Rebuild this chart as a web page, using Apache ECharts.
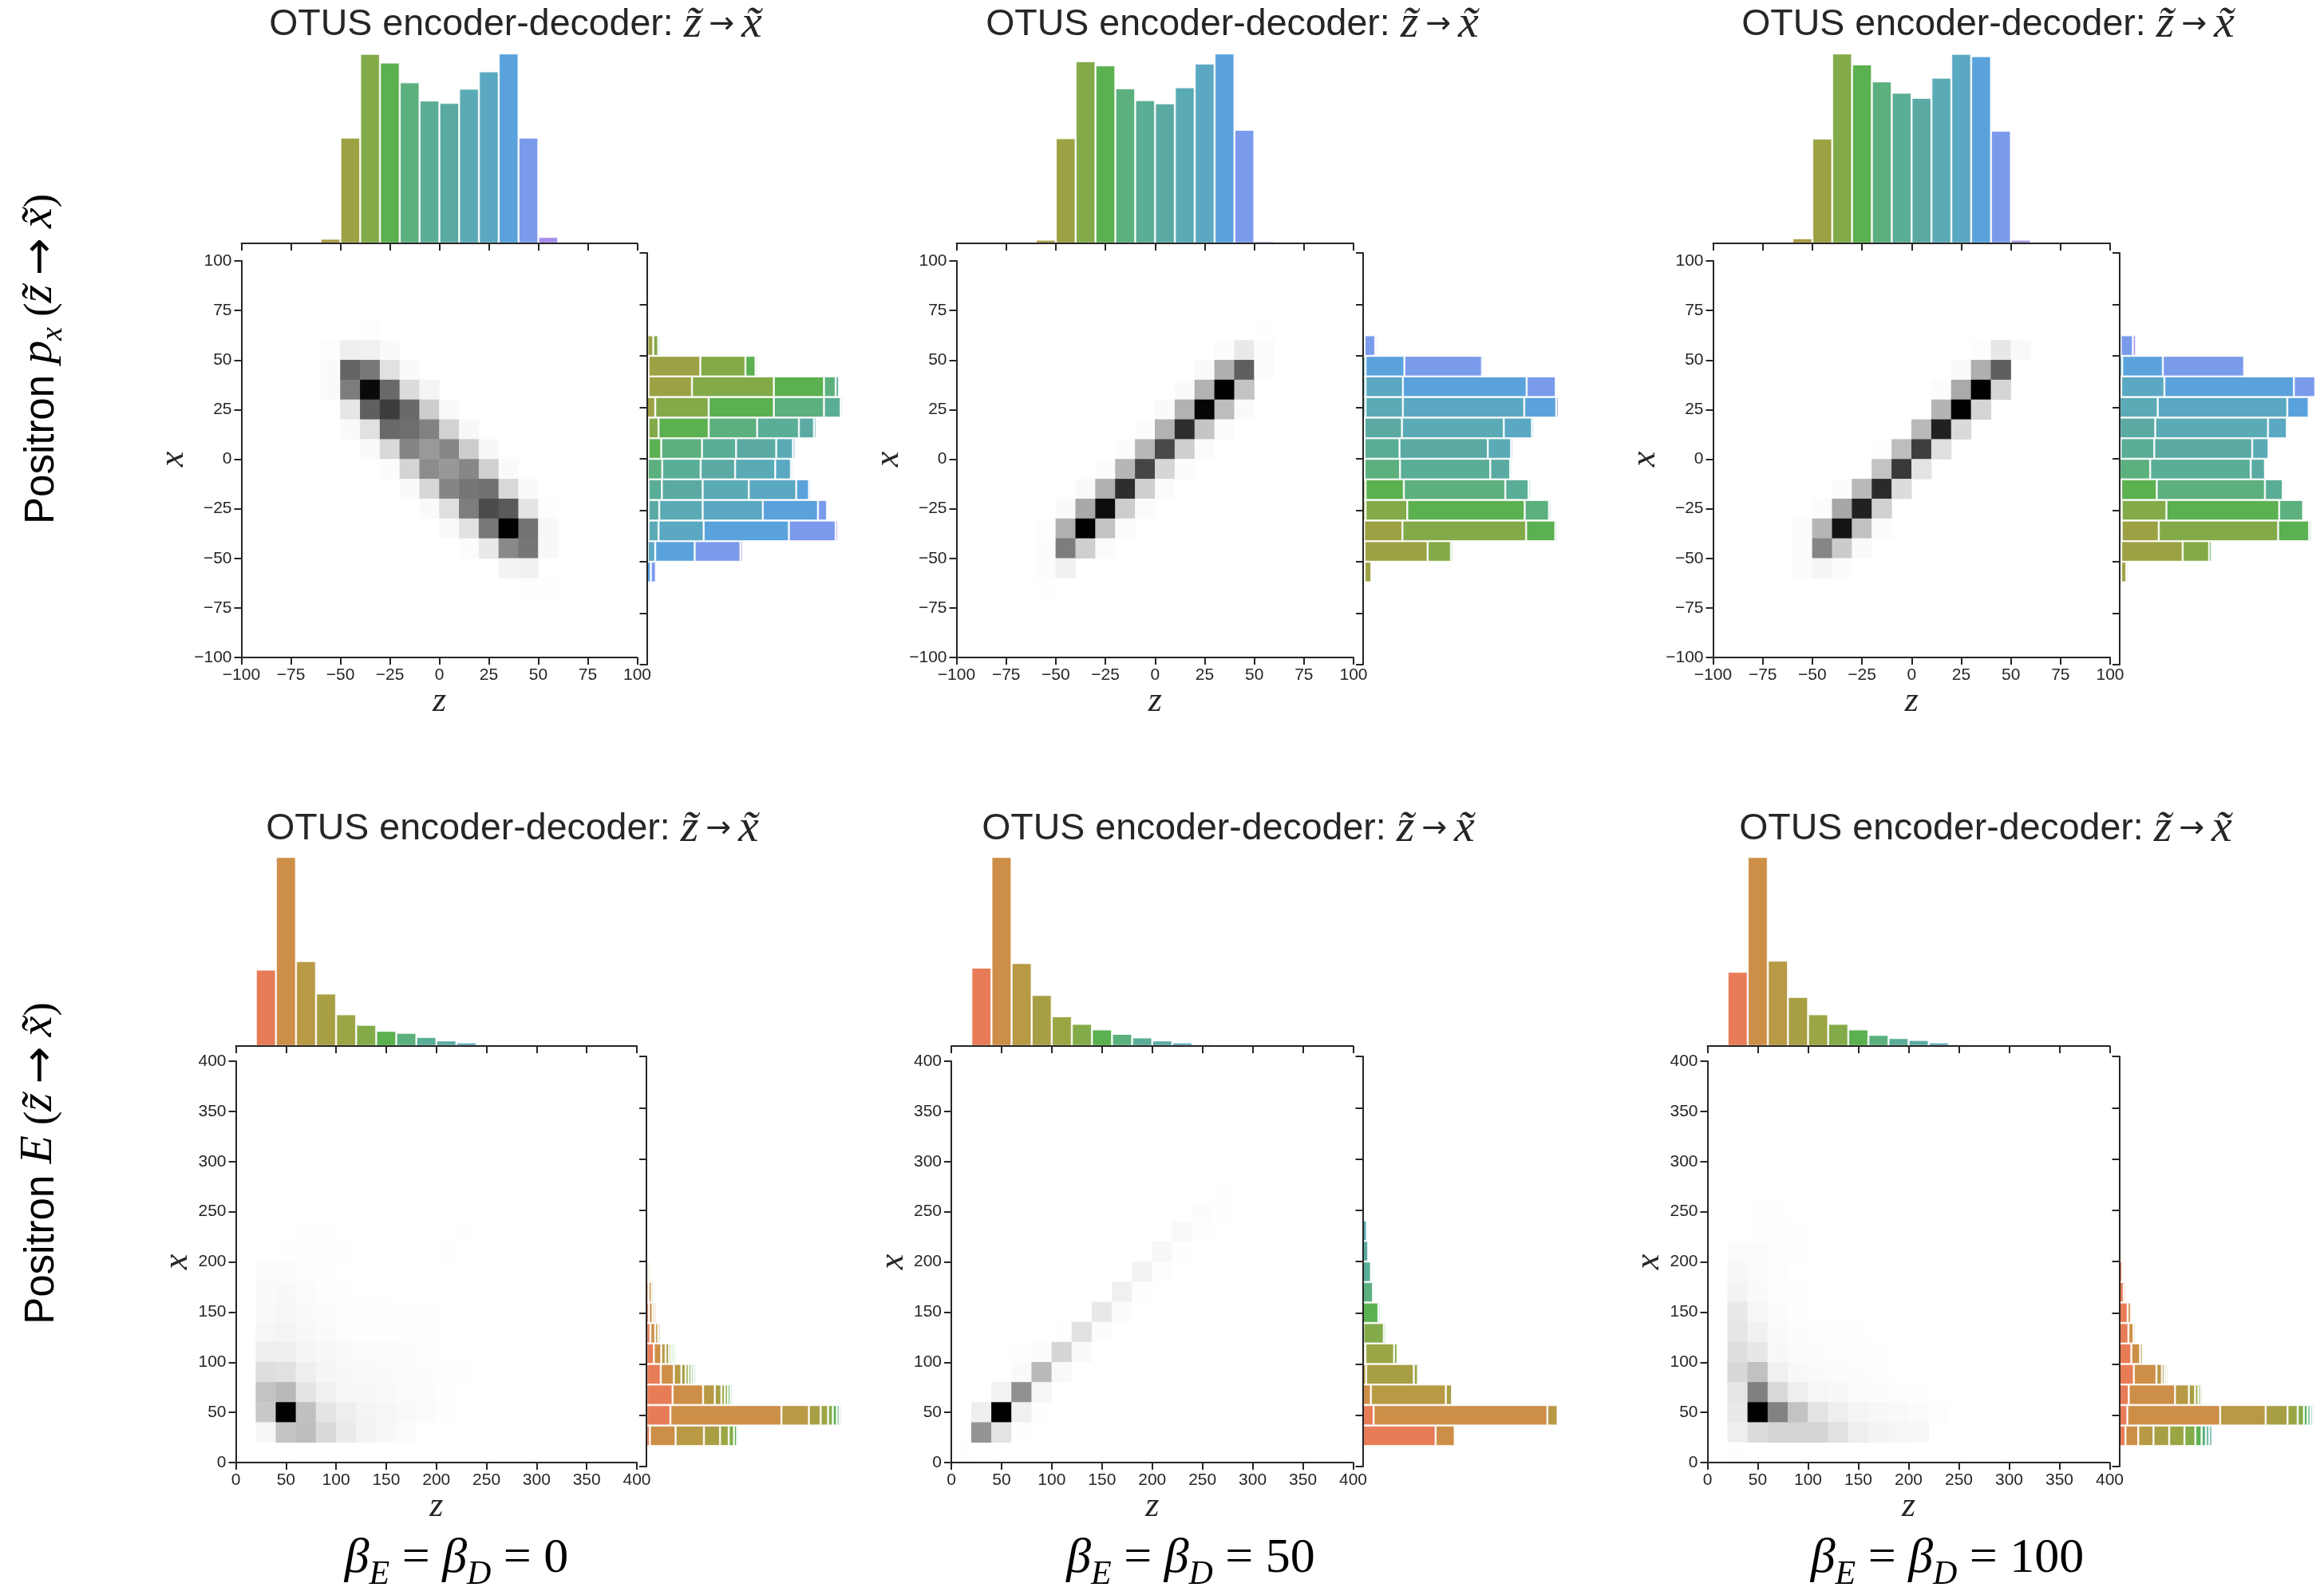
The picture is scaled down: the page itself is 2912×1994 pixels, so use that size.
<!DOCTYPE html>
<html>
<head>
<meta charset="utf-8">
<title>OTUS encoder-decoder</title>
<script src="https://cdn.jsdelivr.net/npm/echarts@6/dist/echarts.min.js"></script>
<style>
	html, body { margin: 0; padding: 0; background: #fff; }
	#main { width: 2912px; height: 1994px; }
</style>
</head>
<body>
<div id="main"></div>
<script>
// bin edges of the hidden category axes
var binsPx = [-100,-90,-80,-70,-60,-50,-40,-30,-20,-10,0,10,20,30,40,50,60,70,80,90];
var binsE = [0,20,40,60,80,100,120,140,160,180,200,220,240,260,280,300,320,340,360,380];
var ticksPx = [-100,-75,-50,-25,0,25,50,75,100];
var ticksE = [0,50,100,150,200,250,300,350,400];

// z bins and x bins that hold data
var zBinsPx = [-60,-50,-40,-30,-20,-10,0,10,20,30,40,50];
var xBinsPx = [60,50,40,30,20,10,0,-10,-20,-30,-40,-50,-60,-70];
var zBinsE = [0,20,40,60,80,100,120,140,160,180,200,220,240,260];
var xBinsE = [260,240,220,200,180,160,140,120,100,80,60,40,20,0];

// colour of every z bin
var coloursPx = ['#a89b40','#9ca243','#83aa49','#5bb04f','#5bb07e','#5aad96','#5aaaa3','#5aabb5','#5aa8c2','#5aa2dc','#7a9aec','#a58cee'];
var coloursE = ['#e87592','#e77c57','#cd8e47','#b89944','#a89e44','#9ba544','#83ab49','#5bb04f','#5bb07e','#5aad96','#59aaa3','#5aa8b5','#5aa5c6','#5aa2dc'];

// top histograms
var histPx0 = [10,231,414,395,352,312,307,338,376,415,231,14];
var histPx50 = [8,230,398,389,339,313,306,341,393,415,248,5];
var histPx100 = [11,229,415,391,354,329,318,362,414,409,246,8];
var histE0 = [1,151,374,168,104,63,42,30,26,18,11,7,4,1];
var histE50 = [1,155,374,164,101,59,44,33,24,17,11,7,4,2];
var histE100 = [1,147,374,169,97,63,44,33,22,16,12,7,4,2];

// joint counts, rows follow xBins*, columns follow zBins*
var jointPx0 = [
	[0,0,2,0,0,0,0,0,0,0,0,0],
	[2,17,15,5,0,0,0,0,0,0,0,0],
	[5,155,135,30,5,0,0,0,0,0,0,0],
	[5,130,245,150,35,10,0,0,0,0,0,0],
	[0,25,160,195,150,50,5,0,0,0,0,0],
	[0,5,30,150,145,125,45,7,0,0,0,0],
	[0,0,5,38,122,102,120,50,7,0,0,0],
	[0,0,0,3,43,115,103,120,47,5,0,0],
	[0,0,0,0,5,40,122,138,142,38,5,0],
	[0,0,0,0,0,5,32,130,180,165,27,2],
	[0,0,0,0,0,0,5,30,135,255,140,7],
	[0,0,0,0,0,0,0,3,22,118,137,7],
	[0,0,0,0,0,0,0,0,0,12,15,0],
	[0,0,0,0,0,0,0,0,0,0,2,2]
];
var jointPx50 = [
	[0,0,0,0,0,0,0,0,0,0,0,1],
	[0,0,0,0,0,0,0,0,0,3,22,3],
	[0,0,0,0,0,0,0,0,5,80,160,3],
	[0,0,0,0,0,0,0,5,77,255,60,0],
	[0,0,0,0,0,0,5,77,250,66,5,0],
	[0,0,0,0,0,3,77,210,58,4,0,0],
	[0,0,0,0,3,72,182,48,4,0,0,0],
	[0,0,0,3,73,186,41,3,0,0,0,0],
	[0,0,5,79,209,48,4,0,0,0,0,0],
	[0,5,86,242,50,4,0,0,0,0,0,0],
	[2,79,255,60,4,0,0,0,0,0,0,0],
	[3,130,48,4,0,0,0,0,0,0,0,0],
	[3,14,0,0,0,0,0,0,0,0,0,0],
	[1,0,0,0,0,0,0,0,0,0,0,0]
];
var jointPx100 = [
	[0,0,0,0,0,0,0,0,0,0,0,0],
	[0,0,0,0,0,0,0,0,0,2,24,6],
	[0,0,0,0,0,0,0,0,5,80,160,0],
	[0,0,0,0,0,0,0,3,85,255,42,0],
	[0,0,0,0,0,0,0,75,255,42,0,0],
	[0,0,0,0,0,0,70,222,37,0,0,0],
	[0,0,0,0,2,66,193,32,0,0,0,0],
	[0,0,0,0,60,198,28,0,0,0,0,0],
	[0,0,3,70,213,35,0,0,0,0,0,0],
	[0,4,88,222,47,0,0,0,0,0,0,0],
	[4,73,235,61,4,0,0,0,0,0,0,0],
	[3,121,52,5,0,0,0,0,0,0,0,0],
	[3,10,3,0,0,0,0,0,0,0,0,0],
	[0,0,0,0,0,0,0,0,0,0,0,0]
];
var jointE0 = [
	[0,0,0,0,0,0,0,0,0,0,0,0,0,0],
	[0,0,0,0,0,0,0,0,0,0,0,0,0,0],
	[0,0,0,1,1,0,0,0,0,0,0,1,0,0],
	[0,0,1,1,1,1,0,0,0,0,1,0,0,0],
	[0,4,4,2,1,0,0,0,0,0,0,0,0,0],
	[0,5,7,4,2,1,0,0,0,0,0,0,0,0],
	[0,6,8,5,4,2,2,2,1,1,0,0,0,0],
	[0,9,11,7,5,2,1,1,1,1,0,0,0,0],
	[0,17,17,10,8,5,4,4,3,1,0,0,0,0],
	[0,33,30,17,10,7,6,5,4,3,2,1,0,0],
	[0,60,70,27,15,8,7,6,4,3,1,0,0,0],
	[0,55,255,63,27,17,11,9,6,4,2,0,0,0],
	[0,8,59,65,37,20,12,7,3,0,0,0,0,0],
	[0,0,0,0,0,0,0,0,0,0,0,0,0,0]
];
var jointE50 = [
	[0,0,0,0,0,0,0,0,0,0,0,0,0,1],
	[0,0,0,0,0,0,0,0,0,0,0,0,3,1],
	[0,0,0,0,0,0,0,0,0,0,0,6,1,0],
	[0,0,0,0,0,0,0,0,0,0,8,1,0,0],
	[0,0,0,0,0,0,0,0,0,12,2,0,0,0],
	[0,0,0,0,0,0,0,0,15,2,0,0,0,0],
	[0,0,0,0,0,0,0,23,3,0,0,0,0,0],
	[0,0,0,0,0,1,30,3,0,0,0,0,0,0],
	[0,0,0,1,3,42,5,0,0,0,0,0,0,0],
	[0,0,0,5,70,6,0,0,0,0,0,0,0,0],
	[0,0,12,110,9,0,0,0,0,0,0,0,0,0],
	[0,16,255,15,1,0,0,0,0,0,0,0,0,0],
	[0,107,28,1,0,0,0,0,0,0,0,0,0,0],
	[1,0,0,0,0,0,0,0,0,0,0,0,0,0]
];
var jointE100 = [
	[0,0,0,0,0,0,0,0,0,0,0,0,0,0],
	[0,0,1,1,0,0,0,0,0,0,0,0,0,0],
	[0,0,1,1,1,0,0,0,0,0,0,0,0,0],
	[0,4,4,2,1,0,0,0,0,0,0,0,0,0],
	[0,8,4,2,0,0,0,0,0,0,0,0,0,0],
	[0,12,5,2,1,0,0,0,0,0,0,0,0,0],
	[0,23,9,3,1,0,0,0,0,0,0,0,0,0],
	[0,25,14,5,3,2,1,1,0,0,0,0,0,0],
	[0,33,24,7,3,3,2,1,1,0,0,0,0,0],
	[0,40,62,15,7,5,4,3,2,0,0,0,0,0],
	[0,26,127,38,17,9,7,4,3,2,1,0,0,0],
	[0,22,255,125,60,28,17,10,8,6,4,2,0,0],
	[0,17,35,42,43,42,30,17,12,9,8,0,0,0],
	[0,1,0,0,0,0,0,0,0,0,0,0,0,0]
];

var betaLabels = ['0', '50', '100'];

// layout in page pixels
var INK = '#262626';
var SANS = '"Liberation Sans", Arial, sans-serif';
var SERIF = '"Liberation Serif", "Times New Roman", serif';
var ARROW = '"DejaVu Sans", sans-serif';
var BORDER = 'rgba(255,255,255,0.75)';
var rowPx = {bins: binsPx, ticks: ticksPx, zBins: zBinsPx, xBins: xBinsPx, colours: coloursPx, min: -100, max: 100, binSize: 10,
	mainTop: 327, mainBottom: 824, topPeak: 67, topBase: 305, sideTop: 317, sideBottom: 833, titleY: 31};
var rowE = {bins: binsE, ticks: ticksE, zBins: zBinsE, xBins: xBinsE, colours: coloursE, min: 0, max: 400, binSize: 20,
	mainTop: 1330, mainBottom: 1833, topPeak: 1074, topBase: 1311, sideTop: 1324, sideBottom: 1838, titleY: 1039};
var panels = [
	{row: rowPx, hist: histPx0, joint: jointPx0, left: 302.5, right: 798.5, side: 810.5, title: 646, nameGap: 61},
	{row: rowPx, hist: histPx50, joint: jointPx50, left: 1198.5, right: 1696, side: 1708, title: 1544, nameGap: 62},
	{row: rowPx, hist: histPx100, joint: jointPx100, left: 2146.5, right: 2644, side: 2656, title: 2491, nameGap: 60},
	{row: rowE, hist: histE0, joint: jointE0, left: 295.5, right: 798, side: 810, title: 642, beta: 572, nameGap: 49},
	{row: rowE, hist: histE50, joint: jointE50, left: 1192, right: 1695.5, side: 1707.5, title: 1539, beta: 1492, nameGap: 49},
	{row: rowE, hist: histE100, joint: jointE100, left: 2139.5, right: 2643.5, side: 2655.5, title: 2488, beta: 2440, nameGap: 49}
];
var SIDE_WIDTH = 245;

var grids = [], xAxes = [], yAxes = [], series = [], visualMaps = [], texts = [];

var lineStyle = {show: true, onZero: false, lineStyle: {color: INK, width: 2}};
var tickStyle = {show: true, length: 9, lineStyle: {color: INK, width: 2}};

function valueAxis(row, gridIndex, labelled, extra) {
	var axis = {
		type: 'value', gridIndex: gridIndex, min: row.min, max: row.max, interval: row.ticks[1] - row.ticks[0], z: 5,
		axisLine: lineStyle, axisTick: tickStyle, splitLine: {show: false},
		axisLabel: {
			show: labelled, color: INK, fontSize: 21, fontFamily: SANS, margin: 12, showMinLabel: true, showMaxLabel: true,
			formatter: function(v) { return String(v).replace('-', '\u2212'); }
		}
	};
	for (var k in extra) axis[k] = extra[k];
	return axis;
}
function binAxis(row, gridIndex) {
	return {type: 'category', gridIndex: gridIndex, show: false, data: row.bins.map(String)};
}
function hiddenAxis(gridIndex, max) {
	return {type: 'value', gridIndex: gridIndex, show: false, min: 0, max: max};
}
function push(list, item) {
	list.push(item);
	return list.length - 1;
}

panels.forEach(function(p, n) {
	var row = p.row;
	var nameStyle = {fontFamily: SERIF, fontStyle: 'italic', fontSize: 44, color: INK};

	// joint heatmap
	var g = push(grids, {left: p.left, width: p.right - p.left, top: row.mainTop, height: row.mainBottom - row.mainTop});
	push(xAxes, valueAxis(row, g, true, {position: 'bottom', name: 'z', nameLocation: 'middle', nameGap: 31, nameTextStyle: nameStyle}));
	push(yAxes, valueAxis(row, g, true, {position: 'left', name: 'x', nameLocation: 'middle', nameGap: p.nameGap, nameTextStyle: nameStyle}));
	var xCat = push(xAxes, binAxis(row, g));
	var yCat = push(yAxes, binAxis(row, g));
	var cells = [];
	p.joint.forEach(function(counts, r) {
		counts.forEach(function(v, c) {
			if (v > 0) {
				cells.push([row.bins.indexOf(row.zBins[c]), row.bins.indexOf(row.xBins[r]), v]);
			}
		});
	});
	var heat = push(series, {type: 'heatmap', xAxisIndex: xCat, yAxisIndex: yCat, data: cells, silent: true});
	visualMaps.push({type: 'continuous', show: false, seriesIndex: heat, dimension: 2, min: 0, max: 255, inRange: {color: ['#ffffff', '#000000']}});

	// top histogram
	g = push(grids, {left: p.left, width: p.right - p.left, top: row.topPeak, height: row.topBase - row.topPeak});
	push(xAxes, valueAxis(row, g, false, {position: 'bottom'}));
	var topCat = push(xAxes, binAxis(row, g));
	var topVal = push(yAxes, hiddenAxis(g, Math.max.apply(null, p.hist)));
	var barData = new Array(row.bins.length).fill('-');
	p.hist.forEach(function(v, c) {
		barData[row.bins.indexOf(row.zBins[c])] = {value: v, itemStyle: {color: row.colours[c]}};
	});
	series.push({
		type: 'bar', xAxisIndex: topCat, yAxisIndex: topVal, data: barData, barWidth: '100%', silent: true,
		itemStyle: {borderColor: BORDER, borderWidth: 1.3}
	});

	// side histogram, one stacked series for every z bin
	var totals = p.joint.map(function(counts) {
		return counts.reduce(function(a, b) { return a + b; }, 0);
	});
	g = push(grids, {left: p.side, width: SIDE_WIDTH, top: row.sideTop, height: row.sideBottom - row.sideTop});
	push(yAxes, valueAxis(row, g, false, {position: 'left'}));
	var sideCat = push(yAxes, binAxis(row, g));
	var sideVal = push(xAxes, hiddenAxis(g, Math.max.apply(null, totals)));
	row.zBins.forEach(function(z, c) {
		var segs = new Array(row.bins.length).fill('-');
		var used = false;
		p.joint.forEach(function(counts, r) {
			if (counts[c] > 0) {
				segs[row.bins.indexOf(row.xBins[r])] = counts[c];
				used = true;
			}
		});
		if (!used) return;
		series.push({
			type: 'bar', xAxisIndex: sideVal, yAxisIndex: sideCat, stack: 'side' + n, data: segs, barWidth: '100%', silent: true,
			itemStyle: {color: row.colours[c], borderColor: BORDER, borderWidth: 1.3}
		});
	});

	// title
	texts.push({
		type: 'text', x: p.title, y: row.titleY, silent: true,
		style: {
			text: '{a|OTUS encoder-decoder: }{m|z\u0303}{b|\u2192}{m|x\u0303}',
			align: 'center', verticalAlign: 'middle', textAlign: 'center', textVerticalAlign: 'middle',
			rich: {
				a: {fontFamily: SANS, fontSize: 46.5, fill: INK, color: INK},
				m: {fontFamily: SERIF, fontStyle: 'italic', fontSize: 58, fill: INK, color: INK},
				b: {fontFamily: ARROW, fontSize: 38, fill: INK, color: INK, padding: [0, 9, 0, 9]}
			}
		}
	});

	// beta label under the lower row
	if (p.beta) {
		var digit = betaLabels[n - 3];
		texts.push({
			type: 'text', x: p.beta, y: 1959, silent: true,
			style: {
				text: '{m|\u03b2}{s|E}{b| = }{m|\u03b2}{s|D}{b| = ' + digit + '}',
				align: 'center', verticalAlign: 'middle', textAlign: 'center', textVerticalAlign: 'middle',
				rich: {
					m: {fontFamily: SERIF, fontStyle: 'italic', fontSize: 62, fill: '#000', color: '#000', verticalAlign: 'bottom', padding: [0, 0, 10, 0]},
					s: {fontFamily: SERIF, fontStyle: 'italic', fontSize: 42, fill: '#000', color: '#000', verticalAlign: 'bottom'},
					b: {fontFamily: SERIF, fontSize: 62, fill: '#000', color: '#000', verticalAlign: 'bottom', padding: [0, 0, 10, 0]}
				}
			}
		});
	}
});

// row labels
function rowLabel(y, letter, sub) {
	var serifStyle = {fontFamily: SERIF, fontSize: 52, fill: '#000', color: '#000', verticalAlign: 'bottom', padding: [0, 0, 8, 0]};
	var rich = {
		a: {fontFamily: SANS, fontSize: 51, fill: '#000', color: '#000', verticalAlign: 'bottom', padding: [0, 0, 8, 0]},
		m: Object.assign({}, serifStyle, {fontStyle: 'italic', fontSize: 58}),
		s: {fontFamily: SERIF, fontStyle: 'italic', fontSize: 38, fill: '#000', color: '#000', verticalAlign: 'bottom'},
		b: serifStyle,
		r: {fontFamily: ARROW, fontSize: 56, fill: '#000', color: '#000', verticalAlign: 'bottom', padding: [0, 12, 6, 12]}
	};
	var text = '{a|Positron }{m|' + letter + '}' + (sub ? '{s|' + sub + '}' : '') + '{b| (}{m|z\u0303}{r|\u2192}{m|x\u0303}{b|)}';
	texts.push({
		type: 'text', x: 53, y: y, rotation: Math.PI / 2, silent: true,
		style: {text: text, align: 'center', verticalAlign: 'middle', textAlign: 'center', textVerticalAlign: 'middle', rich: rich}
	});
}
rowLabel(450, 'p', 'x');
rowLabel(1458, 'E', '');

var chart = echarts.init(document.getElementById('main'));
chart.setOption({
	animation: false,
	backgroundColor: '#ffffff',
	grid: grids,
	xAxis: xAxes,
	yAxis: yAxes,
	visualMap: visualMaps,
	series: series,
	graphic: {elements: texts}
});
</script>
</body>
</html>
